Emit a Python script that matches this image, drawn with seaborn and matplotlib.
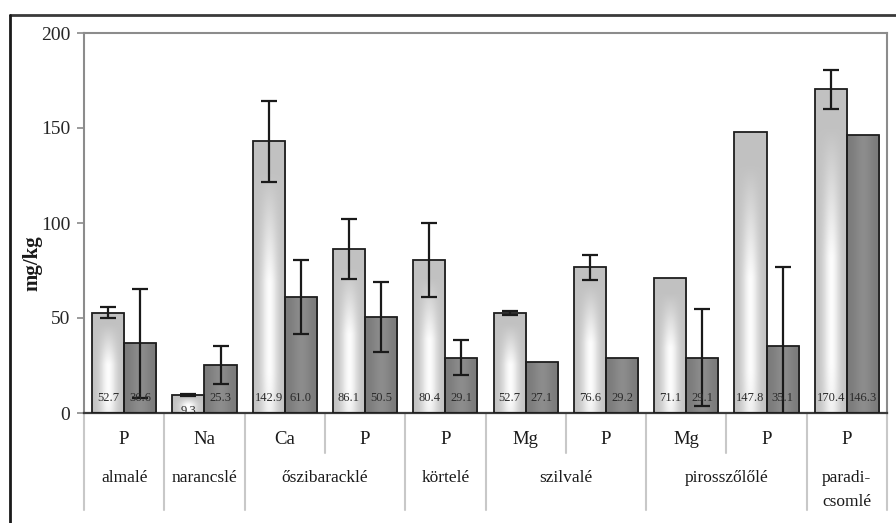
import numpy as np
import pandas as pd
import matplotlib
matplotlib.use("Agg")
import matplotlib.pyplot as plt
import seaborn as sns
from matplotlib.lines import Line2D
from matplotlib.transforms import blended_transform_factory

# Element measured in each column and the juice the columns belong to
elements = ["P", "Na", "Ca", "P", "P", "Mg", "P", "Mg", "P", "P"]
juices = ["almalé", "narancslé", "őszibaracklé", "körtelé",
          "szilvalé", "pirosszőlőlé", "paradi-\ncsomlé"]
juice_span = [1, 1, 2, 1, 2, 2, 1]

# Concentrations (mg/kg) and their deviations for the two sample series
series_names = ["I", "II"]
values_1 = [52.7, 9.3, 142.9, 86.1, 80.4, 52.7, 76.6, 71.1, 147.8, 170.4]
values_2 = [36.6, 25.3, 61.0, 50.5, 29.1, 27.1, 29.2, 29.1, 35.1, 146.3]
err_1 = [2.9, 0.5, 21.3, 15.8, 19.4, 1.0, 6.4, 0.0, 0.0, 10.3]
err_2 = [28.7, 9.8, 19.4, 18.2, 9.2, 0.0, 0.0, 25.4, 41.6, 0.0]

y_ticks = [0, 50, 100, 150, 200]

sns.set_style("white")
plt.rcParams["font.family"] = ["Liberation Serif", "DejaVu Serif"]

columns = [f"{i}:{e}" for i, e in enumerate(elements)]
df = pd.DataFrame({
    "col": columns * 2,
    "series": [series_names[0]] * len(columns) + [series_names[1]] * len(columns),
    "value": values_1 + values_2,
})

W, H = 896, 523
fig = plt.figure(figsize=(W / 100, H / 100), dpi=100)
ax = fig.add_axes([84 / W, 1 - 413 / H, (887 - 84) / W, (413 - 33) / H])

sns.barplot(data=df, x="col", y="value", hue="series", order=columns,
            hue_order=series_names, palette=["#c8c8c8", "#808080"],
            edgecolor="#1e1e1e", linewidth=1.3, width=0.8, errorbar=None,
            legend=False, ax=ax)

ax.set_ylim(0, 200)
ax.set_xlim(-0.5, len(columns) - 0.5)


def gradient(kind, n=96):
    u = np.linspace(-1, 1, n)[None, :]
    v = np.linspace(1, 0, n)[:, None]  # row 0 = top
    if kind == 0:
        vf = np.clip((0.88 - v) / 0.4, 0, 1)
        vf = vf * (0.8 + 0.2 * np.clip(v / 0.15, 0, 1))
        s = np.exp(-(u / 0.5) ** 2) * vf
        lo, hi = np.array([0.76, 0.76, 0.76]), np.array([0.99, 0.99, 0.99])
    else:
        s = np.exp(-(u / 0.55) ** 2) * np.ones_like(v) * 0.9
        lo, hi = np.array([0.48, 0.48, 0.48]), np.array([0.56, 0.56, 0.56])
    img = lo[None, None, :] + (hi - lo)[None, None, :] * s[:, :, None]
    return img


series_vals = [values_1, values_2]
series_errs = [err_1, err_2]
bar_containers = list(ax.containers)
for k, cont in enumerate(bar_containers):
    img = gradient(k)
    for bar, val, err in zip(cont.patches, series_vals[k], series_errs[k]):
        x0, y0 = bar.get_x(), bar.get_y()
        w, h = bar.get_width(), bar.get_height()
        im = ax.imshow(img, extent=[x0, x0 + w, y0, y0 + h], aspect="auto",
                       interpolation="bilinear", zorder=2)
        im.set_clip_path(bar)
        bar.set_facecolor("none")
        bar.set_zorder(3)
        cx = x0 + w / 2
        if err > 0:
            ax.errorbar(cx, val, yerr=err, fmt="none", ecolor="#1a1a1a",
                        elinewidth=1.6, capsize=5.5, capthick=1.6, zorder=4)
        ly = 8 if val >= 16 else val - 8
        ax.text(cx, ly, f"{val:.1f}", ha="center", va="center",
                fontsize=9, color="#2a2a2a", zorder=5)

ax.set_ylim(0, 200)
ax.set_xlim(-0.5, len(columns) - 0.5)
ax.set_yticks(y_ticks)
ax.set_xticks([])
ax.set_xlabel("")
ax.set_ylabel("")
ax.tick_params(axis="y", direction="out", length=5, width=1.2,
               color="#8a8a8a", labelsize=14, pad=5, left=True)

for side in ["left", "top", "right"]:
    ax.spines[side].set_visible(True)
    ax.spines[side].set_color("#8c8c8c")
    ax.spines[side].set_linewidth(1.5)
ax.spines["bottom"].set_color("#3a3a3a")
ax.spines["bottom"].set_linewidth(1.6)

# Two-level category axis below the plot
trans = blended_transform_factory(ax.transData, ax.transAxes)
lvl1_y = (413 - 440) / 380
lvl2_y = (413 - 478) / 380
line_step = 24 / 380
full_bottom = (413 - 510) / 380
short_bottom = (413 - 453) / 380

for i, e in enumerate(elements):
    ax.text(i, lvl1_y, e, transform=trans, ha="center", va="center",
            fontsize=13.5, color="#1a1a1a")

start = 0
boundaries_full = {-0.5}
for name, span in zip(juices, juice_span):
    center = start + (span - 1) / 2
    for j, line in enumerate(name.split("\n")):
        ax.text(center, lvl2_y - j * line_step, line, transform=trans,
                ha="center", va="center", fontsize=12.5, color="#1a1a1a")
    start += span
    boundaries_full.add(start - 0.5)

for b in range(len(columns) + 1):
    xb = b - 0.5
    yb = full_bottom if xb in boundaries_full else short_bottom
    ax.add_line(Line2D([xb, xb], [0, yb], transform=trans, color="#c8c8c8",
                       lw=1.5, clip_on=False, zorder=1))

fig.text(32 / W, 1 - 263 / H, "mg/kg", rotation=90, ha="center", va="center",
         fontsize=15, fontweight="bold", color="#1a1a1a")

# Outer frame
fig.add_artist(Line2D([10 / W, 1.01], [1 - 15 / H, 1 - 15 / H],
                      transform=fig.transFigure, color="#3a3a3a", lw=2))
fig.add_artist(Line2D([10 / W, 10 / W], [-0.01, 1 - 15 / H],
                      transform=fig.transFigure, color="#1a1a1a", lw=2))

fig.savefig("out.png", dpi=100)
